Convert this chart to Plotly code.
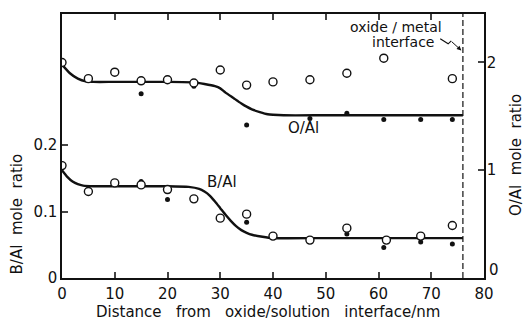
import plotly.graph_objects as go

# ---------------- data ----------------
# O/Al (right axis)
oal_open_x = [0, 5, 10, 15, 20, 25, 30, 35, 40, 47, 54, 61, 74]
oal_open_y = [2.00, 1.85, 1.91, 1.83, 1.84, 1.81, 1.93, 1.79, 1.82, 1.84, 1.90, 2.04, 1.85]
oal_fill_x = [15, 25, 35, 47, 54, 61, 68, 74]
oal_fill_y = [1.71, 1.78, 1.42, 1.48, 1.53, 1.47, 1.47, 1.47]
oal_curve_x = [0, 1.5, 3, 4.5, 6, 10, 20, 25, 27, 29, 30, 31, 32.5, 34, 35, 36, 37.5, 39, 40, 42, 50, 60, 70, 76]
oal_curve_y = [1.98, 1.90, 1.85, 1.825, 1.82, 1.82, 1.82, 1.815, 1.80, 1.78, 1.76, 1.72, 1.67, 1.62, 1.59, 1.565, 1.54, 1.52, 1.515, 1.51, 1.51, 1.51, 1.51, 1.51]

# B/Al (left axis)
bal_open_x = [0, 5, 10, 15, 20, 25, 30, 35, 40, 47, 54, 61.5, 68, 74]
bal_open_y = [0.169, 0.130, 0.143, 0.140, 0.133, 0.119, 0.090, 0.096, 0.063, 0.057, 0.075, 0.057, 0.063, 0.079]
bal_fill_x = [15, 20, 35, 54, 61, 68, 74]
bal_fill_y = [0.145, 0.118, 0.084, 0.066, 0.046, 0.054, 0.051]
bal_curve_x = [0, 1, 2, 3, 4, 6, 10, 20, 24, 26, 27, 28, 29, 30, 31, 32, 33, 34, 35, 36, 38, 40, 50, 60, 70, 76]
bal_curve_y = [0.162, 0.152, 0.145, 0.141, 0.139, 0.138, 0.138, 0.138, 0.137, 0.134, 0.130, 0.124, 0.115, 0.105, 0.095, 0.086, 0.078, 0.072, 0.068, 0.065, 0.062, 0.060, 0.060, 0.060, 0.060, 0.060]

x_ticks = [0, 10, 20, 30, 40, 50, 60, 70, 80]
left_ticks = [0, 0.1, 0.2]
left_tick_text = ["0", "0.1", "0.2"]
right_ticks = [0, 1, 2]
right_tick_text = ["", "1", "2"]   # the "0" is placed separately, slightly raised as in the original
right_zero_label = "0"
interface_x = 76

FONT = "DejaVu Sans"
BLACK = "#111111"

fig = go.Figure()

line_style = dict(color=BLACK, width=2.4, shape="spline", smoothing=0.6)
open_marker = dict(symbol="circle", size=8, color="white", line=dict(width=1.4, color=BLACK))
fill_marker = dict(symbol="circle", size=5, color=BLACK)

fig.add_trace(go.Scatter(x=oal_curve_x, y=oal_curve_y, mode="lines", line=line_style, yaxis="y2", hoverinfo="skip"))
fig.add_trace(go.Scatter(x=bal_curve_x, y=bal_curve_y, mode="lines", line=line_style, yaxis="y", hoverinfo="skip"))
fig.add_trace(go.Scatter(x=oal_fill_x, y=oal_fill_y, mode="markers", marker=fill_marker, yaxis="y2"))
fig.add_trace(go.Scatter(x=bal_fill_x, y=bal_fill_y, mode="markers", marker=fill_marker, yaxis="y"))
fig.add_trace(go.Scatter(x=oal_open_x, y=oal_open_y, mode="markers", marker=open_marker, yaxis="y2"))
fig.add_trace(go.Scatter(x=bal_open_x, y=bal_open_y, mode="markers", marker=open_marker, yaxis="y"))

# dashed interface line
fig.add_shape(type="line", x0=interface_x, x1=interface_x, y0=0, y1=1, xref="x", yref="paper",
              line=dict(color=BLACK, width=1.2, dash="6px,3px"))
# wavy pointer from the label towards the interface line (x in data units, y in paper units)
fig.add_shape(type="path", xref="x", yref="paper",
              path="M 71.7 0.906 L 73.2 0.887 L 73.8 0.898",
              line=dict(color=BLACK, width=1.2))

tickfont = dict(family=FONT, size=15, color=BLACK)
fig.update_layout(
    width=525, height=326,
    margin=dict(l=62, r=41, t=12, b=48),
    paper_bgcolor="white", plot_bgcolor="white",
    showlegend=False,
    xaxis=dict(range=[0, 80], tickvals=x_ticks, ticks="inside", ticklen=6, tickwidth=1.5,
               showline=True, linecolor=BLACK, linewidth=1.5, mirror="ticks", showgrid=False,
               zeroline=False, tickfont=tickfont, ticklabelstandoff=1),
    yaxis=dict(range=[0, 0.397], tickvals=left_ticks, ticktext=left_tick_text, ticks="inside", ticklen=6,
               tickwidth=1.5, showline=True, linecolor=BLACK, linewidth=1.5, showgrid=False,
               zeroline=False, tickfont=tickfont),
    yaxis2=dict(range=[0, 2.45], tickvals=right_ticks, ticktext=right_tick_text, ticks="inside", ticklen=6,
                tickwidth=1.5, showline=True, linecolor=BLACK, linewidth=1.5, showgrid=False,
                zeroline=False, overlaying="y", side="right", tickfont=tickfont, ticklabelstandoff=-2),
)

ann_font = dict(family=FONT, size=15, color=BLACK)
title_font = dict(family=FONT, size=15, color=BLACK)
nb = "\u00a0"
sp = nb * 3
sp2 = nb * 2
fig.add_annotation(text=right_zero_label, x=1, y=right_ticks[0], xref="paper", yref="y2", showarrow=False,
                   font=tickfont, xanchor="left", yanchor="bottom", xshift=3, yshift=-3)
fig.add_annotation(text="O/Al", x=45.7, y=1.39, xref="x", yref="y2", showarrow=False, font=ann_font,
                   xanchor="center", yanchor="middle")
fig.add_annotation(text="B/Al", x=30.3, y=0.145, xref="x", yref="y", showarrow=False, font=ann_font,
                   xanchor="center", yanchor="middle")
fig.add_annotation(text="oxide" + nb + "/" + nb + "metal", x=0.905, y=0.951, xref="paper", yref="paper",
                   showarrow=False, font=dict(family=FONT, size=14, color=BLACK), xanchor="right", yanchor="middle")
fig.add_annotation(text="interface", x=0.887, y=0.893, xref="paper", yref="paper",
                   showarrow=False, font=dict(family=FONT, size=14, color=BLACK), xanchor="right", yanchor="middle")
fig.add_annotation(x=interface_x - 0.3, y=0.862, xref="x", yref="paper", ax=-11, ay=-10,
                   showarrow=True, arrowhead=2, arrowsize=0.9, arrowwidth=1, arrowcolor=BLACK, text="")
fig.add_annotation(text="Distance" + sp + "from" + sp + "oxide/solution" + sp + "interface/nm",
                   x=0.488, y=-0.128, xref="paper", yref="paper", showarrow=False, font=title_font,
                   xanchor="center", yanchor="middle")
fig.add_annotation(text="B/Al" + sp2 + "mole" + sp2 + "ratio", x=-0.107, y=0.244, xref="paper", yref="paper",
                   showarrow=False, font=title_font, textangle=-90, xanchor="center", yanchor="middle")
fig.add_annotation(text="O/Al" + sp2 + "mole" + sp2 + "ratio", x=1.076, y=0.466, xref="paper", yref="paper",
                   showarrow=False, font=title_font, textangle=-90, xanchor="center", yanchor="middle")

fig.write_html("out.html")
